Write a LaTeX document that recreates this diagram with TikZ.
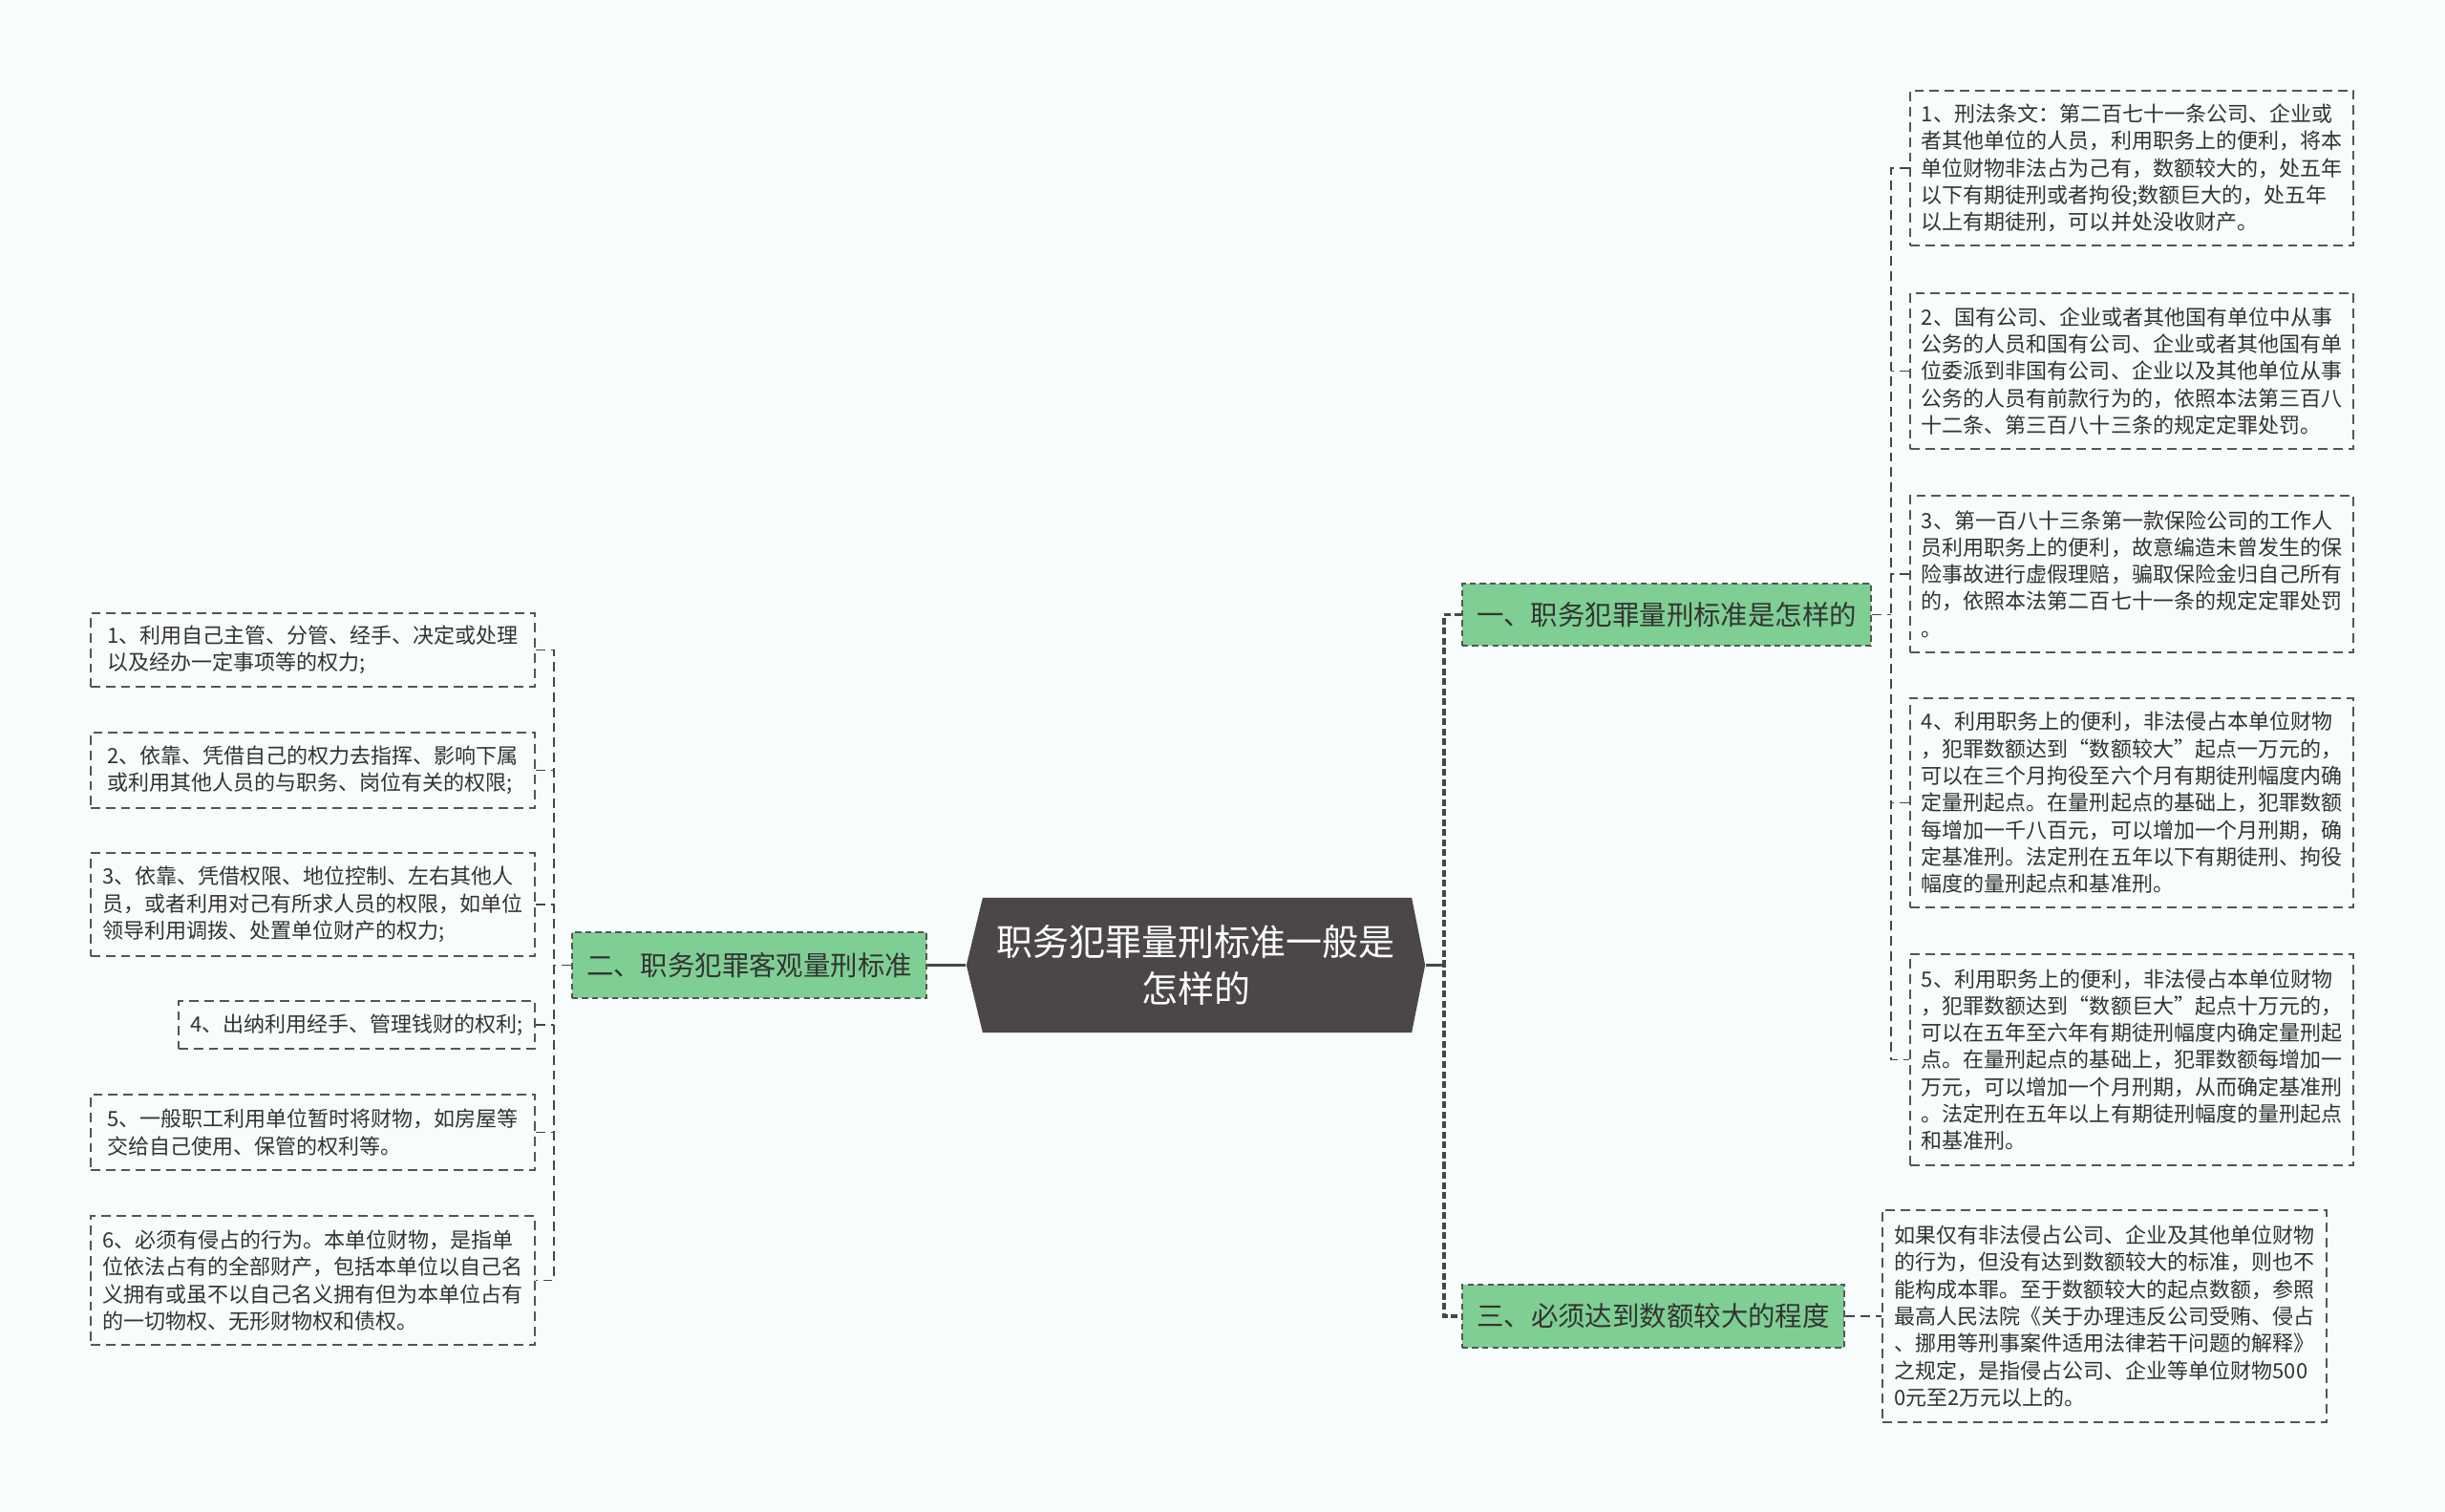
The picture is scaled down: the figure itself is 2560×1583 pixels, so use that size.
\documentclass[tikz,border=0pt]{standalone}
\usepackage{fontspec}
\setmainfont{Noto Sans CJK SC}
\definecolor{bgcol}{RGB}{248,252,253}
\definecolor{rootgray}{RGB}{75,71,71}
\definecolor{leafgreen}{RGB}{127,206,148}
\definecolor{boxgray}{RGB}{85,85,85}
\definecolor{linegray}{RGB}{70,70,70}
\definecolor{textgray}{RGB}{51,51,51}

\begin{document}
\begin{tikzpicture}[x=0.01cm,y=-0.01cm]
    \tikzstyle{root}=[
        minimum width=4.8cm,
        minimum height=1.41cm,
        inner sep=0pt,
        align=center,
        text=white,
        font=\fontsize{10.8pt}{13.9pt}\selectfont,
        path picture={\fill[rootgray] (path picture bounding box.west)
            -- ([xshift=0.17cm]path picture bounding box.north west)
            -- ([xshift=-0.14cm]path picture bounding box.north east)
            -- (path picture bounding box.east)
            -- ([xshift=-0.14cm]path picture bounding box.south east)
            -- ([xshift=0.17cm]path picture bounding box.south west) -- cycle;}]
    \tikzstyle{branch}=[draw=boxgray, fill=leafgreen, dash pattern=on 1.8pt off 1.2pt,
        line width=0.6pt, inner sep=0pt, text=textgray,
        font=\fontsize{8.08pt}{10pt}\selectfont]
    \tikzstyle{leaf}=[draw=boxgray, dash pattern=on 2.8pt off 1.7pt, line width=0.55pt,
        align=left, inner sep=0pt, text=textgray,
        font=\fontsize{6.26pt}{8.05pt}\selectfont]
    \tikzstyle{trunk}=[draw=linegray, line width=1pt]
    \tikzstyle{bar}=[draw=linegray, line width=1pt, dash pattern=on 2pt off 1pt]
    \tikzstyle{link}=[draw=linegray, line width=0.55pt, dash pattern=on 2.8pt off 1.7pt]

    \fill[bgcol] (0,0) rectangle (2560,1583);
    \useasboundingbox (0,0) rectangle (2560,1583);

    % centre and the three branches
    \node[root] (c) at (1252,1010.5) {职务犯罪量刑标准一般是\\怎样的};
    \node[branch, minimum width=4.28cm, minimum height=0.65cm] (b1) at (1745,643.5) {一、职务犯罪量刑标准是怎样的};
    \node[branch, minimum width=3.71cm, minimum height=0.69cm] (b2) at (784.5,1010.5) {二、职务犯罪客观量刑标准};
    \node[branch, minimum width=4.00cm, minimum height=0.66cm] (b3) at (1731,1378) {三、必须达到数额较大的程度};

    % right leaves
    \node[leaf, minimum width=4.64cm, minimum height=1.62cm] (r1) at (2232,176) {1、刑法条文：第二百七十一条公司、企业或\\者其他单位的人员，利用职务上的便利，将本\\单位财物非法占为己有，数额较大的，处五年\\以下有期徒刑或者拘役;数额巨大的，处五年\\以上有期徒刑，可以并处没收财产。};
    \node[leaf, minimum width=4.64cm, minimum height=1.63cm] (r2) at (2232,388.5) {2、国有公司、企业或者其他国有单位中从事\\公务的人员和国有公司、企业或者其他国有单\\位委派到非国有公司、企业以及其他单位从事\\公务的人员有前款行为的，依照本法第三百八\\十二条、第三百八十三条的规定定罪处罚。};
    \node[leaf, minimum width=4.64cm, minimum height=1.64cm] (r3) at (2232,601) {3、第一百八十三条第一款保险公司的工作人\\员利用职务上的便利，故意编造未曾发生的保\\险事故进行虚假理赔，骗取保险金归自己所有\\的，依照本法第二百七十一条的规定定罪处罚\\。};
    \node[leaf, minimum width=4.64cm, minimum height=2.19cm] (r4) at (2232,840.5) {4、利用职务上的便利，非法侵占本单位财物\\，犯罪数额达到“数额较大”起点一万元的，\\可以在三个月拘役至六个月有期徒刑幅度内确\\定量刑起点。在量刑起点的基础上，犯罪数额\\每增加一千八百元，可以增加一个月刑期，确\\定基准刑。法定刑在五年以下有期徒刑、拘役\\幅度的量刑起点和基准刑。};
    \node[leaf, minimum width=4.64cm, minimum height=2.21cm] (r5) at (2232,1109.5) {5、利用职务上的便利，非法侵占本单位财物\\，犯罪数额达到“数额巨大”起点十万元的，\\可以在五年至六年有期徒刑幅度内确定量刑起\\点。在量刑起点的基础上，犯罪数额每增加一\\万元，可以增加一个月刑期，从而确定基准刑\\。法定刑在五年以上有期徒刑幅度的量刑起点\\和基准刑。};
    \node[leaf, minimum width=4.65cm, minimum height=2.22cm] (r6) at (2203.5,1378) {如果仅有非法侵占公司、企业及其他单位财物\\的行为，但没有达到数额较大的标准，则也不\\能构成本罪。至于数额较大的起点数额，参照\\最高人民法院《关于办理违反公司受贿、侵占\\、挪用等刑事案件适用法律若干问题的解释》\\之规定，是指侵占公司、企业等单位财物500\\0元至2万元以上的。};

    % left leaves
    \node[leaf, minimum width=4.65cm, minimum height=0.77cm] (l1) at (327.5,680.5) {1、利用自己主管、分管、经手、决定或处理\\以及经办一定事项等的权力;};
    \node[leaf, minimum width=4.65cm, minimum height=0.79cm] (l2) at (327.5,806.5) {2、依靠、凭借自己的权力去指挥、影响下属\\或利用其他人员的与职务、岗位有关的权限;};
    \node[leaf, minimum width=4.65cm, minimum height=1.08cm] (l3) at (327.5,947) {3、依靠、凭借权限、地位控制、左右其他人\\员，或者利用对己有所求人员的权限，如单位\\领导利用调拨、处置单位财产的权力;};
    \node[leaf, minimum width=3.73cm, minimum height=0.50cm] (l4) at (373.5,1073) {4、出纳利用经手、管理钱财的权利;};
    \node[leaf, minimum width=4.65cm, minimum height=0.79cm] (l5) at (327.5,1185.5) {5、一般职工利用单位暂时将财物，如房屋等\\交给自己使用、保管的权利等。};
    \node[leaf, minimum width=4.65cm, minimum height=1.35cm] (l6) at (327.5,1340.5) {6、必须有侵占的行为。本单位财物，是指单\\位依法占有的全部财产，包括本单位以自己名\\义拥有或虽不以自己名义拥有但为本单位占有\\的一切物权、无形财物权和债权。};

    % connectors, left side
    \coordinate (lj) at (580,1010.5);
    \draw[trunk] (c.west) -- (b2.east);
    \draw[link] (b2.west) -- (lj);
    \draw[link] (l1.east) -- (l1.east -| lj) -- (l6.east -| lj) -- (l6.east);
    \foreach \n in {l2,l3,l4,l5} \draw[link] (\n.east) -- (\n.east -| lj);

    % connectors, right side
    \coordinate (rj) at (1512,1010.5);
    \coordinate (rk) at (1980,643.5);
    \draw[trunk] (c.east) -- (rj);
    \draw[bar] (b1.west) -- (b1.west -| rj) -- (b3.west -| rj) -- (b3.west);
    \draw[link] (b1.east) -- (rk);
    \draw[link] (r1.west) -- (r1.west -| rk) -- (r5.west -| rk) -- (r5.west);
    \foreach \n in {r2,r3,r4} \draw[link] (\n.west) -- (\n.west -| rk);
    \draw[link] (b3.east) -- (r6.west);
\end{tikzpicture}
\end{document}
